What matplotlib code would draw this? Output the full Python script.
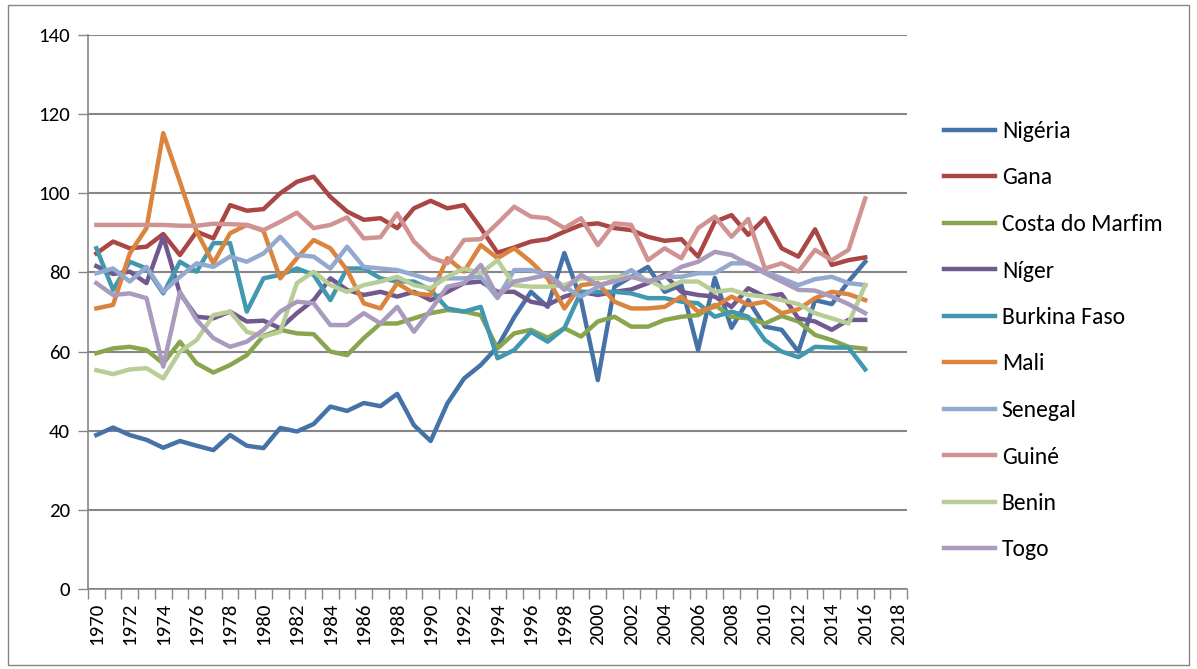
import matplotlib
matplotlib.use("Agg")
import matplotlib.pyplot as plt
from matplotlib.patches import Rectangle

# eixo categórico: 1970..2018
anos = list(range(1970, 2019))
anos_dados = list(range(1970, 2017))

nigeria = [38.9, 40.8, 38.9, 37.7, 35.7, 37.4, 36.2, 35.1, 38.9, 36.2,
           35.6, 40.7, 39.8, 41.7, 46.1, 45.0, 47.0, 46.2, 49.3, 41.4,
           37.4, 46.9, 53.2, 56.6, 61.2, 68.7, 75.1, 71.3, 84.9, 73.0,
           52.8, 76.4, 78.9, 81.4, 75.1, 76.8, 60.4, 78.6, 66.0, 73.0,
           66.3, 65.5, 60.0, 73.0, 72.0, 77.7, 82.7]
gana = [84.8, 87.8, 86.1, 86.5, 89.7, 84.4, 90.3, 88.6, 97.0, 95.6,
        96.0, 100.0, 102.9, 104.2, 99.1, 95.4, 93.3, 93.7, 91.2, 96.2,
        98.1, 96.2, 97.0, 91.2, 85.0, 86.3, 87.8, 88.4, 90.3, 92.0,
        92.4, 91.2, 90.7, 89.0, 88.0, 88.4, 84.0, 92.8, 94.5, 89.5,
        93.7, 86.1, 84.0, 90.9, 81.9, 83.1, 83.8]
costa = [59.6, 60.8, 61.2, 60.4, 57.0, 62.5, 57.0, 54.7, 56.6, 59.1,
         64.0, 65.5, 64.6, 64.4, 60.0, 59.1, 63.4, 67.1, 67.1, 68.4,
         69.7, 70.5, 70.1, 69.2, 60.8, 64.6, 65.5, 63.5, 65.9, 63.8,
         67.6, 68.8, 66.3, 66.3, 68.0, 68.8, 69.2, 71.8, 68.8, 68.4,
         67.1, 69.0, 67.6, 64.2, 62.9, 61.2, 60.7]
niger = [81.6, 79.6, 80.2, 77.3, 89.0, 74.7, 68.8, 68.4, 70.1, 67.6,
         67.8, 65.9, 69.7, 73.0, 78.5, 75.6, 74.3, 75.1, 73.9, 75.1,
         73.0, 75.1, 77.3, 77.7, 75.1, 75.1, 72.6, 71.8, 73.9, 75.1,
         74.3, 75.1, 75.7, 77.3, 79.4, 75.1, 74.3, 73.9, 71.3, 76.0,
         73.9, 74.5, 68.4, 67.6, 65.5, 68.0, 68.0]
burkina = [86.1, 75.6, 82.7, 81.0, 74.7, 82.7, 80.2, 87.4, 87.4, 70.1,
           78.5, 79.4, 81.0, 79.4, 73.0, 81.0, 81.0, 78.5, 77.7, 77.7,
           75.6, 70.9, 70.1, 71.3, 58.3, 60.4, 65.0, 62.5, 65.9, 75.1,
           75.1, 75.1, 74.7, 73.5, 73.5, 72.6, 72.2, 68.8, 70.1, 68.8,
           62.9, 60.0, 58.6, 61.2, 61.0, 61.0, 55.5]
mali = [70.9, 71.8, 84.8, 91.2, 115.2, 102.9, 90.3, 82.3, 89.9, 92.0,
        90.5, 78.5, 83.6, 88.2, 86.1, 80.6, 72.2, 70.9, 77.3, 74.7,
        74.3, 83.6, 80.2, 86.9, 83.6, 86.1, 82.7, 78.5, 70.9, 76.8,
        77.3, 72.6, 70.9, 70.9, 71.3, 73.9, 70.1, 71.3, 73.9, 71.8,
        72.6, 69.7, 70.7, 73.5, 75.1, 74.5, 73.0]
senegal = [79.8, 81.0, 77.7, 81.4, 75.1, 78.9, 82.3, 81.4, 84.0, 82.7,
           84.8, 89.0, 84.4, 84.0, 81.0, 86.5, 81.4, 81.0, 80.6, 79.4,
           78.1, 78.5, 78.5, 78.9, 73.5, 80.6, 80.6, 79.4, 76.4, 73.9,
           76.4, 78.1, 80.6, 77.7, 78.9, 78.9, 79.8, 79.8, 82.3, 82.3,
           80.2, 78.5, 76.8, 78.3, 78.9, 77.3, 76.8]
guine = [92.0, 92.0, 92.0, 92.0, 92.0, 91.8, 91.8, 92.3, 92.2, 92.0,
         90.7, 92.8, 95.1, 91.2, 92.0, 93.9, 88.6, 88.9, 94.9, 87.8,
         83.8, 82.3, 88.2, 88.4, 92.4, 96.6, 94.1, 93.7, 91.2, 93.7,
         86.9, 92.4, 92.0, 83.1, 86.1, 83.6, 91.2, 94.1, 89.0, 93.5,
         81.0, 82.3, 80.2, 85.7, 83.1, 85.7, 98.7]
benin = [55.3, 54.3, 55.5, 55.8, 53.2, 60.0, 62.9, 69.2, 70.1, 65.0,
         63.8, 65.0, 77.3, 80.2, 76.8, 75.1, 76.8, 77.7, 78.9, 76.8,
         76.0, 78.9, 81.0, 79.8, 83.1, 76.8, 76.4, 76.4, 76.8, 78.5,
         78.5, 78.9, 78.9, 78.1, 76.0, 77.7, 77.7, 75.1, 75.6, 74.3,
         73.9, 73.0, 72.0, 69.7, 68.4, 67.1, 76.8]
togo = [77.3, 74.3, 74.7, 73.5, 56.2, 75.1, 68.0, 63.4, 61.2, 62.5,
        65.5, 70.1, 72.6, 72.2, 66.7, 66.7, 69.7, 67.1, 71.3, 65.0,
        70.5, 76.4, 77.3, 81.9, 73.9, 77.7, 78.5, 79.4, 75.6, 79.4,
        76.8, 77.7, 78.9, 77.7, 78.9, 81.4, 82.7, 85.2, 84.4, 82.1,
        79.8, 77.7, 75.6, 75.4, 73.9, 72.0, 69.7]

series = [
    ("Nigéria", nigeria, "#4572A7"),
    ("Gana", gana, "#AA4643"),
    ("Costa do Marfim", costa, "#89A54E"),
    ("Níger", niger, "#71588F"),
    ("Burkina Faso", burkina, "#4198AF"),
    ("Mali", mali, "#DB843D"),
    ("Senegal", senegal, "#93A9CF"),
    ("Guiné", guine, "#D19392"),
    ("Benin", benin, "#B9CD96"),
    ("Togo", togo, "#A99BBD"),
]

plt.rcParams['font.family'] = ['Carlito', 'Liberation Sans', 'DejaVu Sans']

fig = plt.figure(figsize=(11.97, 6.69), dpi=100)
ax = fig.add_axes([88 / 1197, 1 - 589 / 669, (907 - 88) / 1197, (589 - 35) / 669])

xs = list(range(len(anos_dados)))
for nome, vals, cor in series:
    ax.plot(xs, vals, color=cor, lw=3.2, label=nome, solid_joinstyle='round')

grey = "#868686"
ax.set_xlim(-0.5, len(anos) - 0.5)
ax.set_ylim(0, 140)
ax.set_yticks(range(0, 141, 20))
ax.grid(axis='y', color=grey, lw=1.5)
ax.set_axisbelow(True)

ax.set_xticks(range(0, len(anos), 2))
ax.set_xticklabels([str(a) for a in anos[::2]], rotation=90)
ax.set_xticks([i - 0.5 for i in range(len(anos) + 1)], minor=True)
ax.tick_params(axis='x', which='major', length=0, labelsize=15, pad=10)
ax.tick_params(axis='x', which='minor', length=7, color=grey, width=1)
ax.tick_params(axis='y', length=7, color=grey, width=1, labelsize=15, pad=6)

for s in ['top', 'right']:
    ax.spines[s].set_visible(False)
for s in ['left', 'bottom']:
    ax.spines[s].set_color(grey)
    ax.spines[s].set_linewidth(1.2)

ax.legend(loc='upper left', bbox_to_anchor=(944 / 1197, 1 - 121 / 669),
          bbox_transform=fig.transFigure, frameon=False, fontsize=17,
          handlelength=2.15, handletextpad=0.3, labelspacing=1.08,
          borderaxespad=0, borderpad=0)

fig.patches.append(Rectangle((8 / 1197, 4 / 669), 1181 / 1197, 660 / 669,
                             transform=fig.transFigure, fill=False,
                             edgecolor=grey, lw=1))

fig.savefig("out.png", dpi=100)
